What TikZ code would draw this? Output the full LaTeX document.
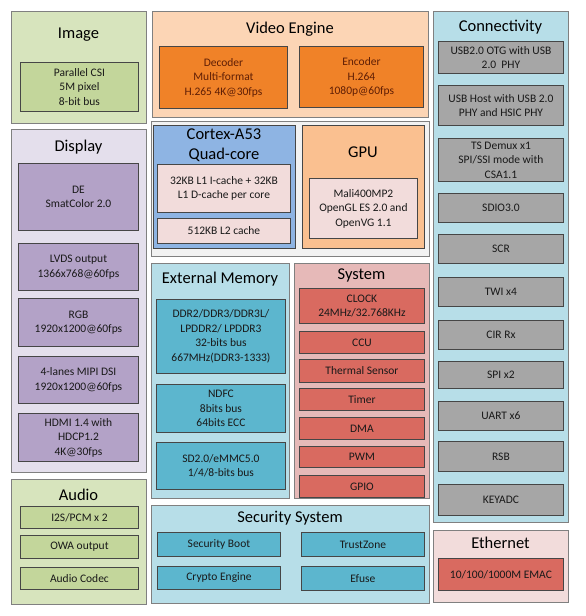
\documentclass[tikz,border=0pt]{standalone}
\usepackage{fontspec}
\setmainfont{Carlito}
\definecolor{PanelLine}{RGB}{128,128,128}
\definecolor{BoxLine}{RGB}{70,70,70}
\definecolor{ImgPanel}{RGB}{215,228,189}
\definecolor{ImgBox}{RGB}{195,214,155}
\definecolor{VidPanel}{RGB}{252,213,181}
\definecolor{VidBox}{RGB}{240,130,40}
\definecolor{VidText}{RGB}{95,30,5}
\definecolor{ConPanel}{RGB}{183,222,232}
\definecolor{ConBox}{RGB}{166,166,166}
\definecolor{DispPanel}{RGB}{228,223,236}
\definecolor{DispBox}{RGB}{179,162,199}
\definecolor{GrpPanel}{RGB}{242,242,242}
\definecolor{CpuPanel}{RGB}{142,180,227}
\definecolor{PinkBox}{RGB}{242,220,219}
\definecolor{GpuPanel}{RGB}{250,192,144}
\definecolor{TealBox}{RGB}{92,182,206}
\definecolor{SysPanel}{RGB}{230,185,184}
\definecolor{RedBox}{RGB}{217,106,96}
\usepackage{tikz}

\begin{document}
\begin{tikzpicture}[
    x=1pt, y=-1pt,
    font=\fontsize{11.5}{14.5}\selectfont,
    panel/.style={draw=PanelLine, line width=0.9pt, anchor=north west, inner sep=0pt},
    box/.style={draw=BoxLine, line width=0.9pt, anchor=north west, align=center, inner sep=1pt, text=black!90},
    ttl/.style={font=\fontsize{16.5}{20}\selectfont, align=center, inner sep=0pt}
  ]
    \useasboundingbox[fill=white] (0,0) rectangle (586,616);

    % Image
    \node[panel, fill=ImgPanel, minimum width=135pt, minimum height=112pt] (img) at (11,11) {};
    \node[ttl] (imgT) at (78.5,35) {Image};
    \node[box, fill=ImgBox, minimum width=118pt, minimum height=49pt] (csi) at (20,62) {Parallel CSI\\5M pixel\\8-bit bus};

    % Video Engine
    \node[panel, fill=VidPanel, minimum width=276pt, minimum height=106pt] (vid) at (152,11) {};
    \node[ttl] (vidT) at (290,29) {Video Engine};
    \node[box, fill=VidBox, text=VidText, minimum width=128pt, minimum height=62pt] (dec) at (159,46) {Decoder\\Multi-format\\H.265 4K@30fps};
    \node[box, fill=VidBox, text=VidText, minimum width=124pt, minimum height=61pt] (enc) at (299,46) {Encoder\\H.264\\1080p@60fps};

    % Connectivity
    \node[panel, fill=ConPanel, minimum width=135pt, minimum height=511pt] (con) at (433,11) {};
    \node[ttl] (conT) at (500.5,27) {Connectivity};
    \node[box, fill=ConBox, minimum width=125pt, minimum height=32pt] (usbotg) at (438,41) {USB2.0 OTG with USB\\2.0\ \ PHY};
    \node[box, fill=ConBox, minimum width=125pt, minimum height=40pt] (usbhost) at (438,85) {USB Host with USB 2.0\\PHY and HSIC PHY};
    \node[box, fill=ConBox, minimum width=125pt, minimum height=43pt] (tsd) at (438,138) {TS Demux x1\\SPI/SSI mode with\\CSA1.1};
    \node[box, fill=ConBox, minimum width=125pt, minimum height=29pt] (sdio) at (438,193) {SDIO3.0};
    \node[box, fill=ConBox, minimum width=125pt, minimum height=29pt] (scr) at (438,234) {SCR};
    \node[box, fill=ConBox, minimum width=125pt, minimum height=29pt] (twi) at (438,277) {TWI x4};
    \node[box, fill=ConBox, minimum width=125pt, minimum height=29pt] (cir) at (438,320) {CIR Rx};
    \node[box, fill=ConBox, minimum width=125pt, minimum height=27pt] (spi) at (438,361) {SPI x2};
    \node[box, fill=ConBox, minimum width=125pt, minimum height=29pt] (uart) at (438,401) {UART x6};
    \node[box, fill=ConBox, minimum width=125pt, minimum height=30pt] (rsb) at (438,441) {RSB};
    \node[box, fill=ConBox, minimum width=125pt, minimum height=31pt] (keyadc) at (438,484) {KEYADC};

    % Display
    \node[panel, fill=DispPanel, minimum width=135pt, minimum height=343pt] (disp) at (11,129) {};
    \node[ttl] (dispT) at (78.5,147) {Display};
    \node[box, fill=DispBox, minimum width=120pt, minimum height=67pt] (de) at (18,163) {DE\\SmatColor 2.0};
    \node[box, fill=DispBox, minimum width=120pt, minimum height=47pt] (lvds) at (18,243) {LVDS output\\1366x768@60fps};
    \node[box, fill=DispBox, minimum width=120pt, minimum height=48pt] (rgb) at (18,298) {RGB\\1920x1200@60fps};
    \node[box, fill=DispBox, minimum width=120pt, minimum height=47pt] (mipi) at (18,356) {4-lanes MIPI DSI\\1920x1200@60fps};
    \node[box, fill=DispBox, minimum width=120pt, minimum height=48pt] (hdmi) at (18,413) {HDMI 1.4 with\\HDCP1.2\\4K@30fps};

    % CPU and GPU
    \node[panel, fill=GrpPanel, minimum width=278pt, minimum height=135pt] (grp) at (151,121) {};
    \node[panel, draw=BoxLine, fill=CpuPanel, minimum width=142pt, minimum height=123pt] (cpu) at (153,125) {};
    \node[ttl] (cpuT) at (224,145) {Cortex-A53\\Quad-core};
    \node[box, fill=PinkBox, minimum width=133pt, minimum height=48pt] (l1) at (157,164) {32KB L1 I-cache + 32KB\\L1 D-cache per core};
    \node[box, fill=PinkBox, minimum width=133pt, minimum height=25pt] (l2) at (157,218) {512KB L2 cache};
    \node[panel, draw=BoxLine, fill=GpuPanel, minimum width=122pt, minimum height=123pt] (gpu) at (302,125) {};
    \node[ttl] (gpuT) at (363,152) {GPU};
    \node[box, fill=PinkBox, minimum width=108pt, minimum height=60pt] (mali) at (309,178) {Mali400MP2\\OpenGL ES 2.0 and\\OpenVG 1.1};

    % External Memory
    \node[panel, fill=ConPanel, minimum width=138pt, minimum height=235pt] (mem) at (151,263) {};
    \node[ttl] (memT) at (220,279) {External Memory};
    \node[box, fill=TealBox, minimum width=129pt, minimum height=74pt] (ddr) at (156,299) {DDR2/DDR3/DDR3L/\\LPDDR2/ LPDDR3\\32-bits bus\\667MHz(DDR3-1333)};
    \node[box, fill=TealBox, minimum width=129pt, minimum height=48pt] (ndfc) at (156,384) {NDFC\\8bits bus\\64bits ECC};
    \node[box, fill=TealBox, minimum width=129pt, minimum height=47pt] (sd) at (156,442) {SD2.0/eMMC5.0\\1/4/8-bits bus};

    % System
    \node[panel, fill=SysPanel, minimum width=135pt, minimum height=235pt] (sys) at (294,263) {};
    \node[ttl] (sysT) at (361.5,275) {System};
    \node[box, fill=RedBox, minimum width=125pt, minimum height=35pt] (clk) at (299,288) {CLOCK\\24MHz/32.768KHz};
    \node[box, fill=RedBox, minimum width=125pt, minimum height=22pt] (ccu) at (299,331) {CCU};
    \node[box, fill=RedBox, minimum width=125pt, minimum height=23pt] (therm) at (299,359) {Thermal Sensor};
    \node[box, fill=RedBox, minimum width=125pt, minimum height=22pt] (timer) at (299,388) {Timer};
    \node[box, fill=RedBox, minimum width=125pt, minimum height=22pt] (dma) at (299,417) {DMA};
    \node[box, fill=RedBox, minimum width=125pt, minimum height=21pt] (pwm) at (299,446) {PWM};
    \node[box, fill=RedBox, minimum width=125pt, minimum height=22pt] (gpio) at (299,475) {GPIO};

    % Audio
    \node[panel, fill=ImgPanel, minimum width=135pt, minimum height=125pt] (aud) at (11,479) {};
    \node[ttl] (audT) at (78.5,495) {Audio};
    \node[box, fill=ImgBox, minimum width=118pt, minimum height=22pt] (i2s) at (20,506) {I2S/PCM x 2};
    \node[box, fill=ImgBox, minimum width=118pt, minimum height=23pt] (owa) at (20,535) {OWA output};
    \node[box, fill=ImgBox, minimum width=118pt, minimum height=22pt] (codec) at (20,567) {Audio Codec};

    % Security System
    \node[panel, fill=ConPanel, minimum width=278pt, minimum height=98pt] (sec) at (151,505) {};
    \node[ttl] (secT) at (290,518) {Security System};
    \node[box, fill=TealBox, minimum width=123pt, minimum height=24pt] (boot) at (157,532) {Security Boot};
    \node[box, fill=TealBox, minimum width=123pt, minimum height=24pt] (trust) at (301,532) {TrustZone};
    \node[box, fill=TealBox, minimum width=123pt, minimum height=23pt] (crypto) at (157,566) {Crypto Engine};
    \node[box, fill=TealBox, minimum width=123pt, minimum height=24pt] (efuse) at (301,566) {Efuse};

    % Ethernet
    \node[panel, fill=PinkBox, minimum width=135pt, minimum height=72pt] (eth) at (433,530) {};
    \node[ttl] (ethT) at (500.5,543) {Ethernet};
    \node[box, fill=RedBox, minimum width=125pt, minimum height=32pt] (emac) at (438,558) {10/100/1000M EMAC};
  \end{tikzpicture}
\end{document}
